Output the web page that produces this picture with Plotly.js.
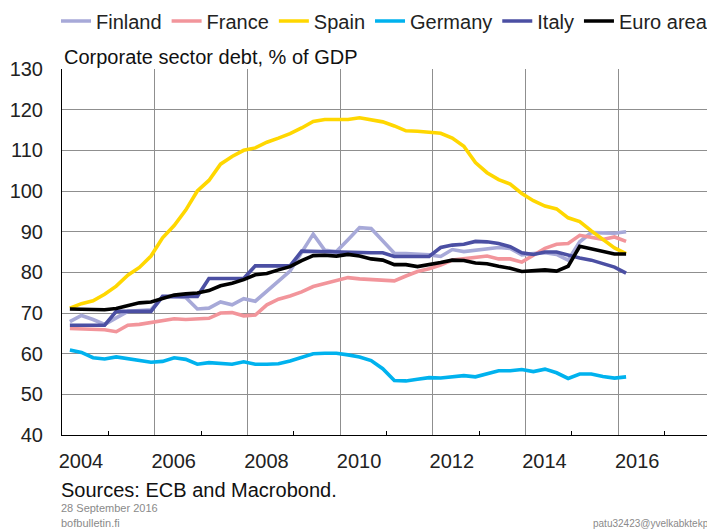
<!DOCTYPE html>
<html><head><meta charset="utf-8">
<script src="https://cdn.plot.ly/plotly-3.0.1.min.js"></script>
<style>html,body{margin:0;padding:0;overflow:hidden;background:#fff}#chart{width:707px;height:532px}</style>
</head><body><div id="chart"></div>
<script>
// Quarterly observations 2004Q1 .. 2016Q1
const firstYear = 2004;
const quarters = [];
for (let y = 2004; y <= 2016; y++) for (let q = 1; q <= 4; q++) { if (y === 2016 && q > 1) break; quarters.push(y + 'Q' + q); }

const seriesNames = ['Finland', 'France', 'Spain', 'Germany', 'Italy', 'Euro area'];

const finland = [67.9,69.4,68.4,67.2, 68.8,70.4,70.6,70.8, 73.9,74.0,73.8,71.0, 71.2,72.7,72.0,73.5,
  72.9,75.4,77.9,80.3, 84.9,89.4,85.4,85.1, 88.0,91.0,90.8,87.8, 84.7,84.6,84.5,84.3,
  83.9,85.6,85.1,85.4, 85.8,86.1,85.9,84.3, 84.6,84.8,84.4,83.0, 87.5,89.8,89.7,89.6, 90.0];
const france = [66.2,66.1,66.0,65.9, 65.4,67.0,67.2,67.7, 68.1,68.6,68.4,68.6, 68.7,70.0,70.1,69.3,
  69.5,72.0,73.4,74.2, 75.2,76.5,77.3,78.0, 78.7,78.4,78.3,78.2, 77.9,79.1,80.2,80.9,
  81.8,83.0,83.3,83.5, 84.0,83.3,83.3,82.5, 84.3,85.9,86.9,87.1, 89.1,88.6,88.1,88.7, 87.6];
const spain = [71.2,72.3,73.0,74.6, 76.6,79.3,81.2,84.0, 88.5,91.5,95.3,100.0, 102.6,106.6,108.5,110.0,
  110.6,112.0,113.0,114.1, 115.5,117.1,117.6,117.6, 117.6,118.0,117.6,117.0, 116.0,114.8,114.7,114.5,
  114.2,113.0,111.0,107.0, 104.5,102.8,101.7,99.4, 97.6,96.3,95.6,93.4, 92.5,90.2,88.0,86.0, 84.6];
const germany = [60.9,60.3,59.0,58.7, 59.2,58.8,58.2,57.9, 58.1,59.0,58.6,57.4, 57.8,57.6,57.4,58.0,
  57.4,57.4,57.5,58.2, 59.2,60.0,60.1,60.1, 59.7,59.2,58.3,56.3, 53.4,53.3,53.7,54.1,
  54.0,54.3,54.6,54.3, 55.1,55.8,55.8,56.1, 55.6,56.2,55.3,53.9, 55.0,55.0,54.4,54.0, 54.3];
const italy = [67.0,67.0,67.0,67.0, 70.4,70.4,70.4,70.4, 74.1,74.1,74.1,74.1, 78.5,78.5,78.5,78.5,
  81.6,81.6,81.6,81.6, 85.2,85.1,85.0,85.0, 85.0,84.9,84.8,84.8, 83.9,83.9,83.9,83.9,
  86.1,86.7,86.9,87.6, 87.5,87.1,86.3,84.8, 84.4,85.0,85.0,84.2, 83.5,83.0,82.2,81.3, 79.8];
const euroArea = [71.0,71.0,70.8,70.8, 71.1,71.9,72.5,72.7, 73.5,74.4,74.7,74.9, 75.5,76.7,77.3,78.2,
  79.4,79.7,80.6,81.4, 82.9,84.1,84.2,84.0, 84.4,84.0,83.3,83.0, 81.9,81.9,81.4,81.8,
  82.4,83.0,82.9,82.3, 82.1,81.5,81.0,80.2, 80.4,80.6,80.3,81.5, 86.4,85.7,85.0,84.5, 84.5];

const xTickYears = [2004, 2006, 2008, 2010, 2012, 2014, 2016];
const xTickLabels = ['2004', '2006', '2008', '2010', '2012', '2014', '2016'];
const minorTickYears = [2005, 2007, 2009, 2011, 2013, 2015, 2017];
const yTickVals = [40, 50, 60, 70, 80, 90, 100, 110, 120, 130];

const titleText = 'Corporate sector debt, % of GDP';
const sourceText = 'Sources: ECB and Macrobond.';
const dateText = '28 September 2016';
const siteText = 'bofbulletin.fi';
const idText = 'patu32423@yvelkabktekp';

// quarter label -> decimal year position
function qx(label) { const y = +label.slice(0, 4), q = +label.slice(5); return y + (q - 1) / 4 + 0.17; }
const xs = quarters.map(qx);

const colors = ['#a7a9d8', '#f2959b', '#ffd700', '#00b2ee', '#4b4fa3', '#000000'];
const data = [finland, france, spain, germany, italy, euroArea];

const traces = data.map((vals, i) => ({
  type: 'scatter', mode: 'lines', name: seriesNames[i], x: xs, y: vals,
  line: {color: colors[i], width: 3.6}
}));

const W = 707, H = 532, ML = 62, MT = 69, MB = 97;
const plotH = H - MT - MB;
const py = p => (H - MB - p) / plotH; // pixel y -> paper y
const px = p => (p - ML) / (W - ML);

const font = 'Arial, "Liberation Sans", sans-serif';

const layout = {
  width: W, height: H,
  margin: {l: ML, r: 0, t: MT, b: MB, autoexpand: false},
  paper_bgcolor: '#fff', plot_bgcolor: '#fff',
  font: {family: font, size: 20, color: '#222'},
  showlegend: true,
  legend: {orientation: 'h', x: px(56), xanchor: 'left', y: py(21), yanchor: 'middle',
    font: {family: font, size: 20, color: '#222'}, bgcolor: 'rgba(0,0,0,0)', itemwidth: 30, tracegroupgap: 0},
  xaxis: {
    range: [2004, 2004 + (W - ML) / 46.35], tickmode: 'array', tickvals: xTickYears, ticktext: xTickLabels,
    showgrid: true, gridcolor: '#8f8f8f', gridwidth: 1, zeroline: false,
    showline: true, linecolor: '#000', linewidth: 1, ticks: '', ticklabelshift: 19, ticklabelstandoff: 8,
    tickfont: {family: font, size: 20, color: '#222'},
    minor: {tickmode: 'array', tickvals: minorTickYears, ticks: 'inside', ticklen: 4, tickcolor: '#000', tickwidth: 1, showgrid: false}
  },
  yaxis: {
    range: [40, 130], tickmode: 'array', tickvals: yTickVals,
    showgrid: true, gridcolor: '#8f8f8f', gridwidth: 1, zeroline: false,
    showline: true, linecolor: '#000', linewidth: 1, ticks: '', ticklabelstandoff: 14,
    tickfont: {family: font, size: 20, color: '#222'}
  },
  annotations: [
    {text: titleText, xref: 'paper', yref: 'paper', x: 0, y: py(57), xanchor: 'left', yanchor: 'middle', showarrow: false,
      font: {family: font, size: 20, color: '#111'}},
    {text: sourceText, xref: 'paper', yref: 'paper', x: px(59), y: py(490), xanchor: 'left', yanchor: 'middle', showarrow: false,
      font: {family: font, size: 20, color: '#111'}},
    {text: dateText, xref: 'paper', yref: 'paper', x: px(59), y: py(508), xanchor: 'left', yanchor: 'middle', showarrow: false,
      font: {family: font, size: 11, color: '#8a8a8a'}},
    {text: siteText, xref: 'paper', yref: 'paper', x: px(59), y: py(523), xanchor: 'left', yanchor: 'middle', showarrow: false,
      font: {family: font, size: 11, color: '#8a8a8a'}},
    {text: idText, xref: 'paper', yref: 'paper', x: px(591), y: py(523), xanchor: 'left', yanchor: 'middle', showarrow: false,
      font: {family: font, size: 10, color: '#8a8a8a'}}
  ]
};

Plotly.newPlot('chart', traces, layout, {staticPlot: true, displayModeBar: false});
</script></body></html>
